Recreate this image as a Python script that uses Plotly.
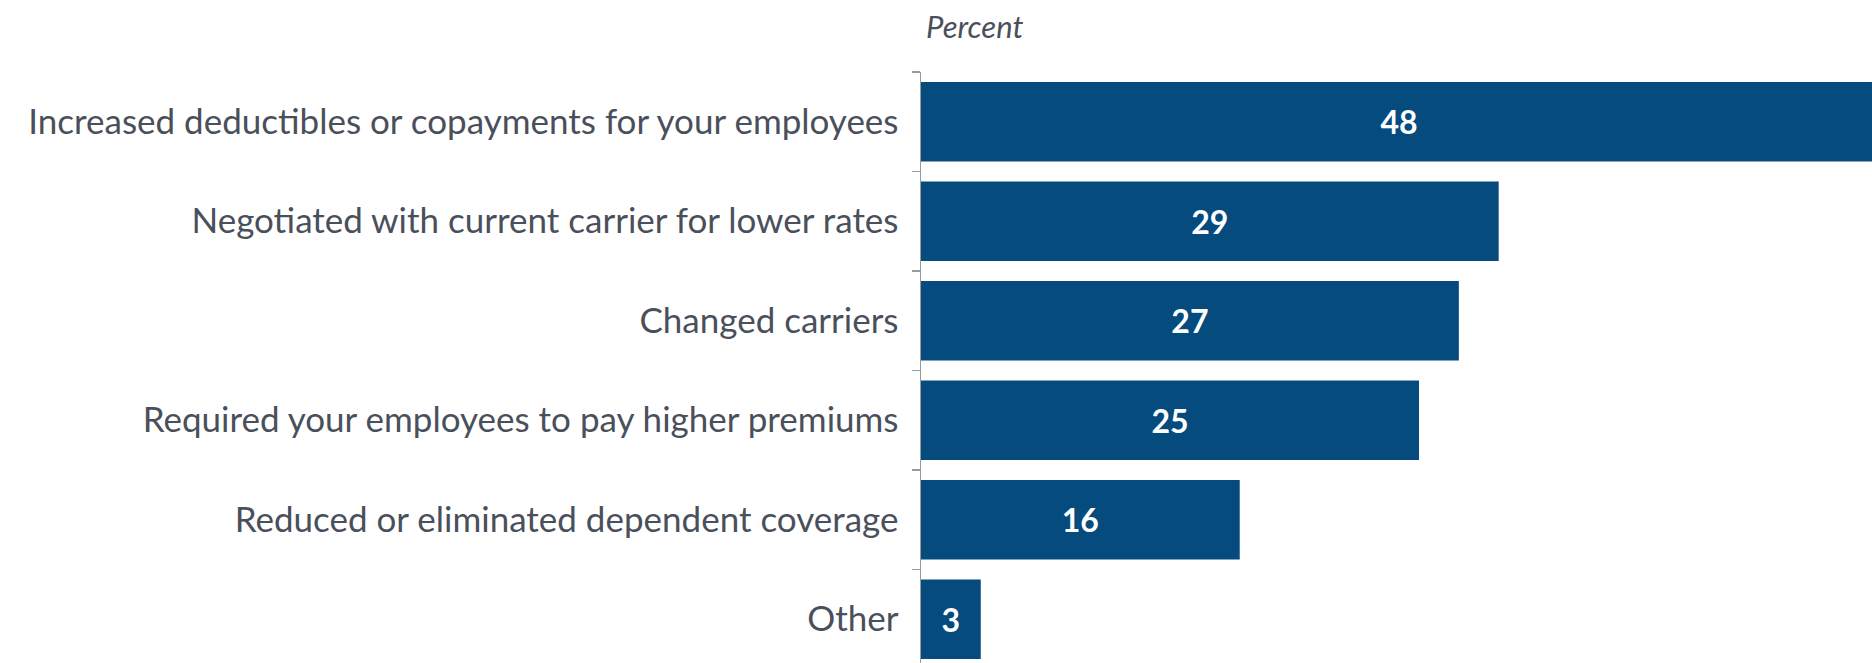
import plotly.graph_objects as go

categories = [
    "Increased deductibles or copayments for your employees",
    "Negotiated with current carrier for lower rates",
    "Changed carriers",
    "Required your employees to pay higher premiums",
    "Reduced or eliminated dependent coverage",
    "Other",
]
values = [48, 29, 27, 25, 16, 3]

BAR = "#054b7d"
TEXT = "#4a505b"
AXIS = "#9a9a9a"
FONT = "Lato, sans-serif"

fig = go.Figure(go.Bar(
    x=values, y=categories, orientation="h",
    marker=dict(color=BAR, line=dict(width=0)),
    width=0.8,
    text=[str(v) for v in values],
    textposition="inside", insidetextanchor="middle",
    textangle=0, constraintext="none",
    textfont=dict(family=FONT, size=32, color="white", weight="bold"),
    hoverinfo="skip",
))

fig.update_layout(
    width=1872, height=663,
    margin=dict(l=921, r=0, t=72, b=0),
    paper_bgcolor="white", plot_bgcolor="white",
    font=dict(family=FONT, color=TEXT),
    showlegend=False,
    bargap=0.2,
    annotations=[dict(
        text="<i>Percent</i>", xref="paper", yref="paper",
        x=0, y=1, xanchor="left", yanchor="middle", xshift=3, yshift=46,
        showarrow=False, font=dict(family=FONT, size=31, color=TEXT),
    )],
)
fig.update_xaxes(range=[0, 47.74], visible=False, fixedrange=True)
fig.update_yaxes(
    range=[5.44, -0.5], showline=True, linecolor=AXIS, linewidth=1.5,
    ticks="outside", tickson="boundaries", ticklen=8, tickcolor=AXIS, tickwidth=1.5,
    showgrid=False, zeroline=False, ticklabelstandoff=14,
    tickfont=dict(family=FONT, size=35, color=TEXT), fixedrange=True,
)

# drop the default body margin so the figure fills the window exactly
fig.write_html(
    "out.html",
    config={"displayModeBar": False, "staticPlot": True},
    post_script="document.body.style.margin='0';document.body.style.overflow='hidden';",
)
